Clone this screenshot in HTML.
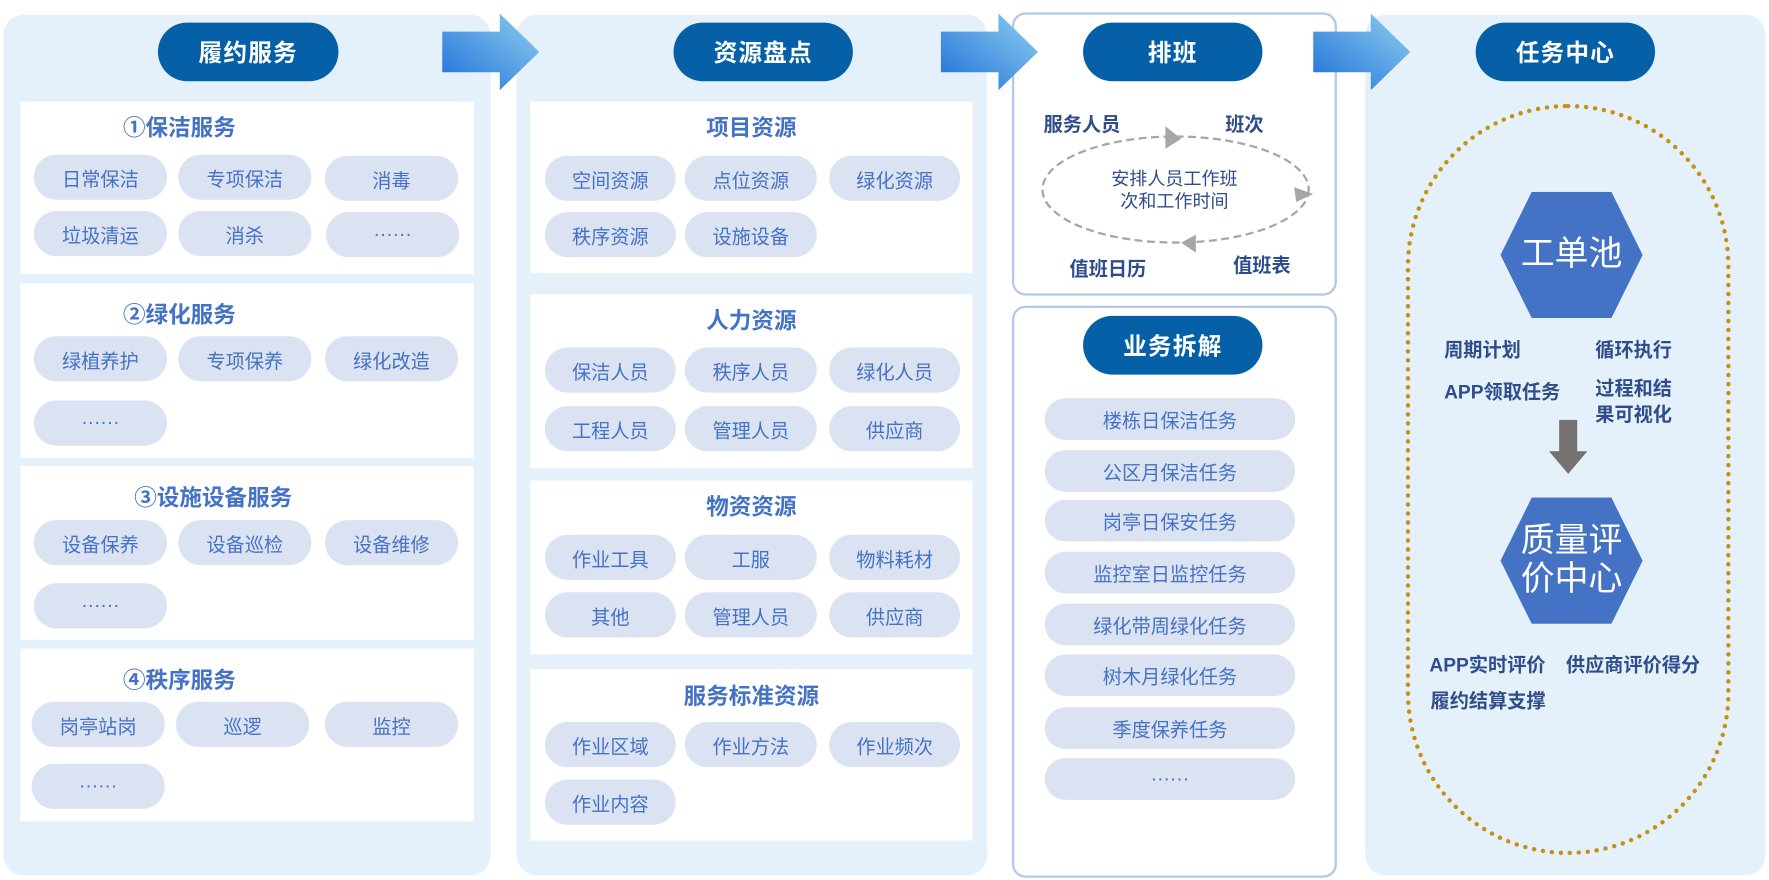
<!DOCTYPE html>
<html><head><meta charset="utf-8"><style>
html,body{margin:0;padding:0;background:#fff;width:1769px;height:880px;overflow:hidden}
#c{position:absolute;left:0;top:0;width:1568px;height:780px;transform:scale(1.12819,1.12821);transform-origin:0 0;font-family:"Liberation Sans","Noto Sans CJK SC",sans-serif}
.a{position:absolute;box-sizing:border-box}
.panel{background:#e5f1fa;border-radius:18px}
.title{background:#0560a8;color:#fff;border-radius:26px;font-size:21px;font-weight:bold;display:flex;align-items:center;justify-content:center;letter-spacing:1px}
.sec{background:#fff}
.st{color:#4472c4;font-weight:bold;font-size:20px;text-align:center;width:100%;position:absolute}
.p{background:#dbe3f3;color:#4472c4;border-radius:20px;font-size:17px;display:flex;align-items:center;justify-content:center;width:118px;height:40px;position:absolute}
.wb{background:#fff;border:2px solid #b4c7e7;border-radius:12px}
.lb{color:#2f4d8a;font-weight:bold;font-size:17px;position:absolute;white-space:nowrap}
.it{background:#dbe3f3;color:#4472c4;border-radius:19px;font-size:17px;display:flex;align-items:center;justify-content:center;width:222px;height:37px;position:absolute;left:926px}
.hex{position:absolute;background:#4472c4;clip-path:polygon(22% 0,78% 0,100% 50%,78% 100%,22% 100%,0 50%);color:#fff;font-size:30px;display:flex;align-items:center;justify-content:center;text-align:center;line-height:34px}
</style></head><body><div id="c">

<!-- Panel 1 -->
<div class="a panel" style="left:3px;top:13px;width:432px;height:763px"></div>
<div class="a title" style="left:140px;top:20px;width:160px;height:52px">履约服务</div>

<div class="a sec" style="left:18px;top:90px;width:402px;height:153px"><div class="st" style="left:-60px;top:7px">①保洁服务</div></div>
<div class="p" style="left:30px;top:137px">日常保洁</div><div class="p" style="left:158px;top:137px">专项保洁</div><div class="p" style="left:288px;top:138px">消毒</div>
<div class="p" style="left:30px;top:187px">垃圾清运</div><div class="p" style="left:158px;top:187px">消杀</div><div class="p" style="left:289px;top:188px">······</div>

<div class="a sec" style="left:18px;top:251px;width:402px;height:155px"><div class="st" style="left:-60px;top:12px">②绿化服务</div></div>
<div class="p" style="left:30px;top:298px">绿植养护</div><div class="p" style="left:158px;top:298px">专项保养</div><div class="p" style="left:288px;top:298px">绿化改造</div>
<div class="p" style="left:30px;top:355px">······</div>

<div class="a sec" style="left:18px;top:413px;width:402px;height:154px"><div class="st" style="left:-30px;top:12px">③设施设备服务</div></div>
<div class="p" style="left:30px;top:461px">设备保养</div><div class="p" style="left:158px;top:461px">设备巡检</div><div class="p" style="left:288px;top:461px">设备维修</div>
<div class="p" style="left:30px;top:517px">······</div>

<div class="a sec" style="left:18px;top:575px;width:402px;height:153px"><div class="st" style="left:-60px;top:12px">④秩序服务</div></div>
<div class="p" style="left:28px;top:622px">岗亭站岗</div><div class="p" style="left:156px;top:622px">巡逻</div><div class="p" style="left:288px;top:622px">监控</div>
<div class="p" style="left:28px;top:677px">······</div>

<!-- Panel 2 -->
<div class="a panel" style="left:458px;top:13px;width:417px;height:763px"></div>
<div class="a title" style="left:597px;top:20px;width:159px;height:52px">资源盘点</div>

<div class="a sec" style="left:470px;top:90px;width:392px;height:152px"><div class="st" style="top:7px">项目资源</div></div>
<div class="p" style="left:483px;top:138px;width:116px">空间资源</div><div class="p" style="left:607px;top:138px;width:117px">点位资源</div><div class="p" style="left:735px;top:138px;width:116px">绿化资源</div>
<div class="p" style="left:483px;top:188px;width:116px">秩序资源</div><div class="p" style="left:607px;top:188px;width:117px">设施设备</div>

<div class="a sec" style="left:470px;top:261px;width:392px;height:154px"><div class="st" style="top:7px">人力资源</div></div>
<div class="p" style="left:483px;top:308px;width:116px">保洁人员</div><div class="p" style="left:607px;top:308px;width:117px">秩序人员</div><div class="p" style="left:735px;top:308px;width:116px">绿化人员</div>
<div class="p" style="left:483px;top:360px;width:116px">工程人员</div><div class="p" style="left:607px;top:360px;width:117px">管理人员</div><div class="p" style="left:735px;top:360px;width:116px">供应商</div>

<div class="a sec" style="left:470px;top:426px;width:392px;height:154px"><div class="st" style="top:7px">物资资源</div></div>
<div class="p" style="left:483px;top:474px;width:116px">作业工具</div><div class="p" style="left:607px;top:474px;width:117px">工服</div><div class="p" style="left:735px;top:474px;width:116px">物料耗材</div>
<div class="p" style="left:483px;top:525px;width:116px">其他</div><div class="p" style="left:607px;top:525px;width:117px">管理人员</div><div class="p" style="left:735px;top:525px;width:116px">供应商</div>

<div class="a sec" style="left:470px;top:593px;width:392px;height:152px"><div class="st" style="top:8px">服务标准资源</div></div>
<div class="p" style="left:483px;top:640px;width:116px">作业区域</div><div class="p" style="left:607px;top:640px;width:117px">作业方法</div><div class="p" style="left:735px;top:640px;width:116px">作业频次</div>
<div class="p" style="left:483px;top:691px;width:116px">作业内容</div>

<!-- Panel 3a -->
<div class="a wb" style="left:897px;top:11px;width:288px;height:251px"></div>
<div class="a title" style="left:960px;top:20px;width:159px;height:52px">排班</div>
<div class="lb" style="left:925px;top:96px">服务人员</div>
<div class="lb" style="left:1086px;top:96px">班次</div>
<div class="lb" style="left:948px;top:224px">值班日历</div>
<div class="lb" style="left:1093px;top:221px">值班表</div>
<svg class="a" style="left:897px;top:11px" width="288" height="251">
<ellipse cx="145" cy="157" rx="118" ry="47" fill="none" stroke="#a6a6a6" stroke-width="2" stroke-dasharray="7,4"/>
<polygon points="136,101 150,112 136,121" fill="#a6a6a6"/>
<polygon points="250,155 267,161 252,168" fill="#a6a6a6"/>
<polygon points="163,197 150,204 163,213" fill="#a6a6a6"/>
</svg>
<div class="a" style="left:960px;top:150px;width:162px;text-align:center;color:#2f4d8a;font-size:16px;line-height:20px">安排人员工作班<br>次和工作时间</div>

<!-- Panel 3b -->
<div class="a wb" style="left:897px;top:271px;width:288px;height:507px"></div>
<div class="a title" style="left:960px;top:280px;width:159px;height:52px">业务拆解</div>
<div class="it" style="top:353px">楼栋日保洁任务</div>
<div class="it" style="top:399px">公区月保洁任务</div>
<div class="it" style="top:443px">岗亭日保安任务</div>
<div class="it" style="top:489px">监控室日监控任务</div>
<div class="it" style="top:535px">绿化带周绿化任务</div>
<div class="it" style="top:580px">树木月绿化任务</div>
<div class="it" style="top:627px">季度保养任务</div>
<div class="it" style="top:672px">······</div>

<!-- Panel 4 -->
<div class="a panel" style="left:1210px;top:13px;width:355px;height:763px"></div>
<div class="a title" style="left:1308px;top:20px;width:159px;height:52px">任务中心</div>
<div class="a" style="left:1246px;top:92px;width:288px;height:666px;border:4px dotted #c8900f;border-radius:144px"></div>
<div class="hex" style="left:1330px;top:170px;width:126px;height:112px">工单池</div>
<div class="lb" style="left:1280px;top:296px">周期计划</div>
<div class="lb" style="left:1414px;top:296px">循环执行</div>
<div class="lb" style="left:1280px;top:333px">APP领取任务</div>
<div class="lb" style="left:1414px;top:333px;line-height:23px">过程和结<br>果可视化</div>
<svg class="a" style="left:1372px;top:372px" width="36" height="50"><polygon points="10,0 26,0 26,28 35,28 18,48 1,28 10,28" fill="#767171"/></svg>
<div class="hex" style="left:1330px;top:441px;width:126px;height:112px">质量评<br>价中心</div>
<div class="lb" style="left:1267px;top:575px">APP实时评价</div>
<div class="lb" style="left:1388px;top:575px">供应商评价得分</div>
<div class="lb" style="left:1268px;top:607px">履约结算支撑</div>

<!-- arrows on top -->
<svg class="a" style="left:0;top:0" width="1568" height="780">
<defs><linearGradient id="g" x1="0" y1="1" x2="1" y2="0"><stop offset="0" stop-color="#1f6fd8"/><stop offset="1" stop-color="#8fd0f0"/></linearGradient></defs>
<polygon points="392,28 443,28 443,12 478,46 443,80 443,64 392,64" fill="url(#g)"/>
<polygon points="834,28 885,28 885,12 920,46 885,80 885,64 834,64" fill="url(#g)"/>
<polygon points="1164,28 1215,28 1215,12 1250,46 1215,80 1215,64 1164,64" fill="url(#g)"/>
</svg>

</div></body></html>
